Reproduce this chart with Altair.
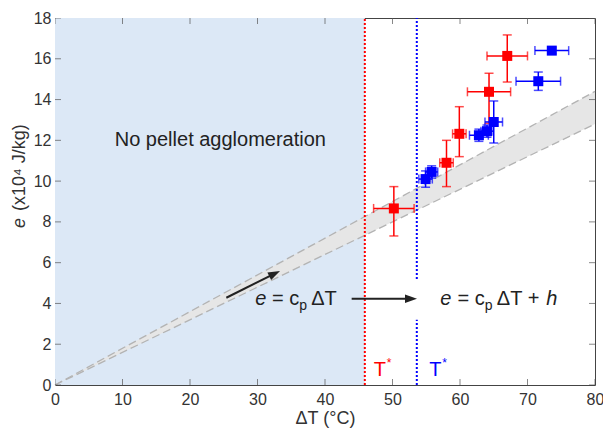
import altair as alt
import pandas as pd

# ---------------- data ----------------
red_dT = [50.2, 58.0, 59.9, 64.3, 67.0]
red_e = [8.66, 10.9, 12.32, 14.38, 16.14]
red_dT_err = [3.0, 1.0, 1.0, 3.2, 3.0]
red_e_err_lo = [1.35, 1.17, 1.12, 1.55, 1.28]
red_e_err_hi = [1.07, 1.1, 1.33, 0.91, 1.03]

blue_dT = [73.6, 71.6, 65.0, 64.0, 62.8, 55.8, 54.9]
blue_e = [16.4, 14.9, 12.9, 12.45, 12.25, 10.45, 10.1]
blue_dT_err = [2.5, 3.3, 1.3, 0.9, 1.4, 0.9, 1.0]
blue_e_err = [0.15, 0.45, 1.03, 0.3, 0.3, 0.3, 0.4]

T_star_red = 45.9
T_star_blue = 53.6
blue_gap = [3.2, 5.2]          # where the blue dotted line is interrupted by text

band_dT = [0, 80]
band_low = [0, 12.8]
band_high = [0, 14.4]

x_ticks = [0, 10, 20, 30, 40, 50, 60, 70, 80]
y_ticks = [0, 2, 4, 6, 8, 10, 12, 14, 16, 18]

FONT = "Liberation Sans"
RED = "#ff0000"
BLUE = "#0000ff"
XS = alt.Scale(domain=[0, 80], nice=False, zero=False)
YS = alt.Scale(domain=[0, 18], nice=False, zero=False)

# ---------------- tables ----------------
red = pd.DataFrame({"x": red_dT, "y": red_e, "xe": red_dT_err,
                    "ylo": red_e_err_lo, "yhi": red_e_err_hi})
red["x1"] = red.x - red.xe
red["x2"] = red.x + red.xe
red["y1"] = red.y - red.ylo
red["y2"] = red.y + red.yhi

blue = pd.DataFrame({"x": blue_dT, "y": blue_e, "xe": blue_dT_err, "ye": blue_e_err})
blue["x1"] = blue.x - blue.xe
blue["x2"] = blue.x + blue.xe
blue["y1"] = blue.y - blue.ye
blue["y2"] = blue.y + blue.ye

band = pd.DataFrame({"x": band_dT, "lo": band_low, "hi": band_high})
region = pd.DataFrame({"x": [0], "x2": [T_star_red], "y": [0], "y2": [18]})
red_v = pd.DataFrame({"x": [T_star_red], "y": [0], "y2": [18]})
blue_v = pd.DataFrame({"x": [T_star_blue, T_star_blue], "y": [0, blue_gap[1]],
                       "y2": [blue_gap[0], 18]})

X = lambda f: alt.X(f, type="quantitative", scale=XS)
Y = lambda f: alt.Y(f, type="quantitative", scale=YS)

base_axes = alt.Chart(region).mark_rect(color="#dce8f6").encode(
    x=alt.X("x:Q", scale=XS,
            axis=alt.Axis(values=x_ticks, title="ΔT (°C)", grid=False, ticks=False,
                          domain=False, labelPadding=6, titlePadding=2, labelFlush=False,
                          labelFontSize=16, titleFontSize=18, labelColor="#333",
                          titleColor="#333", labelFont=FONT, titleFont=FONT,
                          titleFontWeight="normal")),
    x2="x2:Q",
    y=alt.Y("y:Q", scale=YS,
            axis=alt.Axis(values=y_ticks, title=None, grid=False, ticks=False,
                          domain=False, labelPadding=4, labelFontSize=16, labelFlush=False,
                          labelColor="#333", labelFont=FONT)),
    y2="y2:Q",
)

band_area = alt.Chart(band).mark_area(color="#e6e6e6", opacity=1).encode(
    x=X("x"), y=Y("lo"), y2="hi:Q")
band_lo = alt.Chart(band).mark_line(color="#b3b3b3", strokeDash=[8, 4], strokeWidth=1.3).encode(
    x=X("x"), y=Y("lo"))
band_hi = alt.Chart(band).mark_line(color="#b3b3b3", strokeDash=[8, 4], strokeWidth=1.3).encode(
    x=X("x"), y=Y("hi"))

red_line = alt.Chart(red_v).mark_rule(color=RED, strokeDash=[2, 2], strokeWidth=2).encode(
    x=X("x"), y=Y("y"), y2="y2:Q")
blue_line = alt.Chart(blue_v).mark_rule(color=BLUE, strokeDash=[2, 2], strokeWidth=2).encode(
    x=X("x"), y=Y("y"), y2="y2:Q")

# inward ticks on all four sides
tick_b = alt.Chart(pd.DataFrame({"x": x_ticks, "y": [0] * len(x_ticks)})).mark_tick(
    orient="vertical", size=12, thickness=1, color="#555", clip=True).encode(x=X("x"), y=Y("y"))
tick_t = alt.Chart(pd.DataFrame({"x": x_ticks, "y": [18] * len(x_ticks)})).mark_tick(
    orient="vertical", size=12, thickness=1, color="#555", clip=True).encode(x=X("x"), y=Y("y"))
tick_l = alt.Chart(pd.DataFrame({"x": [0] * len(y_ticks), "y": y_ticks})).mark_tick(
    orient="horizontal", size=12, thickness=1, color="#555", clip=True).encode(x=X("x"), y=Y("y"))
tick_r = alt.Chart(pd.DataFrame({"x": [80] * len(y_ticks), "y": y_ticks})).mark_tick(
    orient="horizontal", size=12, thickness=1, color="#555", clip=True).encode(x=X("x"), y=Y("y"))


def errorbars(df, color):
    h = alt.Chart(df).mark_rule(color=color, strokeWidth=1.5).encode(x=X("x1"), x2="x2:Q", y=Y("y"))
    v = alt.Chart(df).mark_rule(color=color, strokeWidth=1.5).encode(x=X("x"), y=Y("y1"), y2="y2:Q")
    c1 = alt.Chart(df).mark_tick(orient="vertical", size=9, thickness=1.5, color=color).encode(x=X("x1"), y=Y("y"))
    c2 = alt.Chart(df).mark_tick(orient="vertical", size=9, thickness=1.5, color=color).encode(x=X("x2"), y=Y("y"))
    c3 = alt.Chart(df).mark_tick(orient="horizontal", size=9, thickness=1.5, color=color).encode(x=X("x"), y=Y("y1"))
    c4 = alt.Chart(df).mark_tick(orient="horizontal", size=9, thickness=1.5, color=color).encode(x=X("x"), y=Y("y2"))
    pts = alt.Chart(df).mark_point(shape="square", filled=True, size=100, opacity=1, color=color).encode(
        x=X("x"), y=Y("y"))
    return [h, v, c1, c2, c3, c4, pts]


# arrows
ARROW = "M1,0 L-1,-0.7 L-1,0.7 Z"
arr1 = pd.DataFrame({"x": [25.38, 32.54], "y": [4.28, 5.46]})
arr2 = pd.DataFrame({"x": [43.95, 52.74], "y": [4.23, 4.23]})
arrow_layers = []
for df, ang in [(arr1, 333.7), (arr2, 0)]:
    arrow_layers.append(alt.Chart(df).mark_line(color="#222", strokeWidth=2).encode(x=X("x"), y=Y("y")))
    arrow_layers.append(alt.Chart(df.iloc[[1]]).mark_point(
        shape=ARROW, filled=True, size=144, angle=ang, opacity=1, color="#222").encode(x=X("x"), y=Y("y")))


def txt(x, y, s, size=20, color="#222", style="normal", dx=0, dy=0, align="left",
        baseline="alphabetic"):
    return alt.Chart(pd.DataFrame({"x": [x], "y": [y]})).mark_text(
        text=s, font=FONT, fontSize=size, color=color, fontStyle=style, dx=dx, dy=dy,
        align=align, baseline=baseline).encode(x=X("x"), y=Y("y"))


texts = [
    txt(24.5, 12.0, "No pellet agglomeration", align="center", baseline="middle"),
    # e = c_p ΔT
    txt(29.66, 3.92, "e", style="italic"),
    txt(29.66, 3.92, "= c", dx=16.7),
    txt(29.66, 3.92, "p", size=14, dx=44, dy=5),
    txt(29.66, 3.92, "ΔT", dx=56),
    # e = c_p ΔT + h
    txt(57.06, 3.92, "e", style="italic"),
    txt(57.06, 3.92, "= c", dx=17.3),
    txt(57.06, 3.92, "p", size=14, dx=44.5, dy=5),
    txt(57.06, 3.92, "ΔT +", dx=56.7),
    txt(57.06, 3.92, "h", style="italic", dx=106),
    # T* labels
    txt(47.24, 0.44, "T", color=RED),
    txt(47.24, 0.44, "*", size=12, color=RED, dx=13, dy=-9),
    txt(55.44, 0.44, "T", color=BLUE),
    txt(55.44, 0.44, "*", size=12, color=BLUE, dx=13, dy=-9),
]

# rotated y-axis title
one = pd.DataFrame({"a": [0]})
ytitle = [
    alt.Chart(one).mark_text(text="e", font=FONT, fontSize=18, fontStyle="italic", angle=270,
                             align="center", baseline="middle", color="#333").encode(
        x=alt.value(-35), y=alt.value(205)),
    alt.Chart(one).mark_text(text="(x10⁴ J/kg)", font=FONT, fontSize=18, angle=270,
                             align="left", baseline="middle", color="#333").encode(
        x=alt.value(-35), y=alt.value(193)),
]

layers = ([base_axes, band_area, band_lo, band_hi, red_line, blue_line]
          + arrow_layers + texts
          + errorbars(red, RED) + errorbars(blue, BLUE)
          + [tick_b, tick_t, tick_l, tick_r] + ytitle)

chart = alt.layer(*layers).properties(
    width=540, height=367,
    autosize=alt.AutoSizeParams(type="none"),
    padding={"left": 47, "top": 10, "right": 8, "bottom": 45},
).configure_view(stroke="#444", strokeWidth=1).configure_axis(labelFont=FONT, titleFont=FONT)

chart.save("out.html", embed_options={"renderer": "svg", "actions": False})
